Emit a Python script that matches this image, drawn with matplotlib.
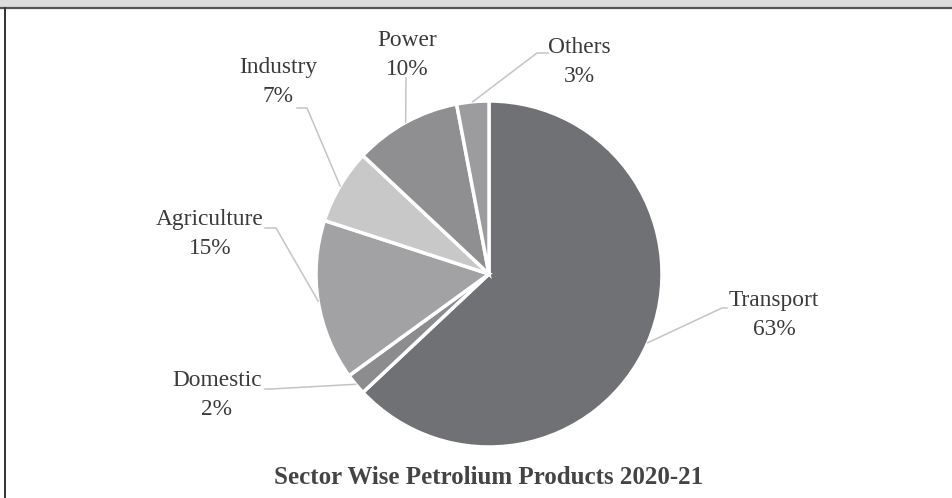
import numpy as np
import matplotlib
matplotlib.use("Agg")
import matplotlib.pyplot as plt
from matplotlib.patches import Rectangle
from matplotlib.lines import Line2D

# Sector-wise share of petroleum product consumption, 2020-21 (%)
sectors = ["Transport", "Domestic", "Agriculture", "Industry", "Power", "Others"]
shares = [63, 2, 15, 7, 10, 3]
title = "Sector Wise Petrolium Products 2020-21"

colors = ["#707175", "#8c8c8f", "#a2a2a4", "#c8c8c8", "#8f8f92", "#9c9c9f"]

W, H = 953, 498
cx, cy, R = 489, 274, 173  # pie centre / radius in pixel space (y down)

# label block centre, leader stub start and elbow (pixel space, y down)
label_pos = {
    "Transport":   dict(text=(774, 315), stub=(727, 308), elbow=(722, 308)),
    "Domestic":    dict(text=(217, 395), stub=(265, 389), elbow=(271, 389)),
    "Agriculture": dict(text=(210, 234), stub=(265, 228), elbow=(276, 228)),
    "Industry":    dict(text=(278, 82),  stub=(297, 108), elbow=(307, 108)),
    "Power":       dict(text=(407, 55),  stub=(406, 78),  elbow=(406, 78)),
    "Others":      dict(text=(579, 62),  stub=(548, 53),  elbow=(537, 53)),
}

fig = plt.figure(figsize=(W / 100, H / 100), dpi=100)
ax = fig.add_axes([0, 0, 1, 1])
ax.axis("off")


def py(y):
    return H - y


wedges, _ = ax.pie(
    shares, colors=colors, startangle=90, counterclock=False,
    center=(cx, py(cy)), radius=R,
    wedgeprops=dict(edgecolor="white", linewidth=2.5),
)
ax.set_xlim(0, W)
ax.set_ylim(0, H)
ax.set_aspect("equal")

serif = "Liberation Serif"
lead_col = "#c4c4c4"

for w, name, val in zip(wedges, sectors, shares):
    mid = np.deg2rad((w.theta1 + w.theta2) / 2)
    ax_pt = (cx + R * np.cos(mid), py(cy) + R * np.sin(mid))
    lp = label_pos[name]
    xs = [lp["stub"][0], lp["elbow"][0], ax_pt[0]]
    ys = [py(lp["stub"][1]), py(lp["elbow"][1]), ax_pt[1]]
    ax.add_line(Line2D(xs, ys, color=lead_col, lw=1.1, zorder=1))
    tx, ty = lp["text"]
    ax.text(tx, py(ty), f"{name}\n{val}%", ha="center", va="center",
            multialignment="center", fontsize=16.8, family=serif,
            color="#3a3a3a", linespacing=1.45)

ax.text(489, py(478), title, ha="center", va="center", fontsize=18,
        family=serif, fontweight="bold", color="#444444")

# caption band and frame at the top / left edge
fig.patches.append(Rectangle((0, 1 - 7 / H), 1, 7 / H, transform=fig.transFigure,
                             facecolor="#dcdcde", edgecolor="none"))
fig.lines.append(Line2D([0, 1], [1 - 7.8 / H, 1 - 7.8 / H], transform=fig.transFigure,
                        color="#555555", lw=1.6))
fig.lines.append(Line2D([4.5 / W, 4.5 / W], [0, 1 - 7.8 / H], transform=fig.transFigure,
                        color="#333333", lw=1.4))

fig.savefig("out.png", dpi=100, facecolor="white")
